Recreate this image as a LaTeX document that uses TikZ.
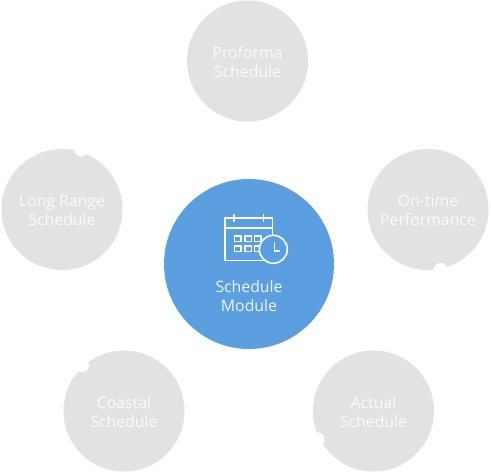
\documentclass[tikz,border=0pt]{standalone}
\usepackage{fontspec}
\setmainfont{Open Sans}
\definecolor{greyfill}{HTML}{E2E2E2}
\definecolor{greytext}{HTML}{FCFCFC}
\definecolor{hubblue}{HTML}{5B9FE0}
\definecolor{hubtext}{HTML}{EEF5FC}
\definecolor{iconline}{HTML}{FFFFFF}
\tikzset{
  x=1pt,y=-1pt,
  grey/.style={circle,fill=greyfill,minimum size=121pt,inner sep=0pt,text=greytext,align=center,font=\fontsize{15.8}{19}\selectfont},
  hub/.style={circle,fill=hubblue,minimum size=170pt,inner sep=0pt},
  notch/.style={fill=white},
  icon/.style={draw=iconline,line width=1.6pt},
  hublabel/.style={text=hubtext,align=center,font=\fontsize{15.8}{19}\selectfont,inner sep=0pt}
}
\begin{document}
\begin{tikzpicture}
\useasboundingbox (0,0) rectangle (491,474);
\fill[white] (0,0) rectangle (491,474);
\node[grey] (proforma) at (247.5,61) {};
\node[grey] (longrange) at (62,209.5) {};
\node[grey] (ontime) at (428,209.5) {};
\node[grey] (coastal) at (124,411) {};
\node[grey] (actual) at (373.5,411) {};
\node[grey,fill=none,minimum size=0pt] (proformatext) at (247.5,62.5) {Proforma\\Schedule};
\node[grey,fill=none,minimum size=0pt] (longrangetext) at (62,210.5) {Long Range\\Schedule};
\node[grey,fill=none,minimum size=0pt] (ontimetext) at (428,210.5) {On-time\\Performance};
\node[grey,fill=none,minimum size=0pt] (coastaltext) at (124,412.5) {Coastal\\Schedule};
\node[grey,fill=none,minimum size=0pt] (actualtext) at (373.5,412.5) {Actual\\Schedule};
\fill[notch] (81.5,149.5) circle (7);
\fill[notch] (440.3,270) circle (7);
\fill[notch] (82,365.3) circle (7);
\fill[notch] (317.5,439.3) circle (7);
\node[hub] (hub) at (249,264) {};
\node[hublabel] (hubtext) at (249,296) {Schedule\\Module};
% calendar icon
\draw[icon] (225,218) rectangle (272.5,260.5);
\draw[icon] (225,228) -- (272.5,228);
\draw[icon] (233.7,214) -- (233.7,221.5);
\draw[icon] (263.3,214) -- (263.3,221.5);
\foreach \px in {234.5,245,254.5}{
  \foreach \py in {236,246}{
    \draw[draw=iconline,line width=1.3pt] (\px,\py) rectangle ++(6.5,5.5);
  }
}
\fill[hubblue] (273.3,249.3) circle (14.5);
\draw[icon] (273.3,249.3) circle (14);
\draw[icon] (274.5,241.5) -- (274.5,251) -- (279.5,251);
\end{tikzpicture}
\end{document}
